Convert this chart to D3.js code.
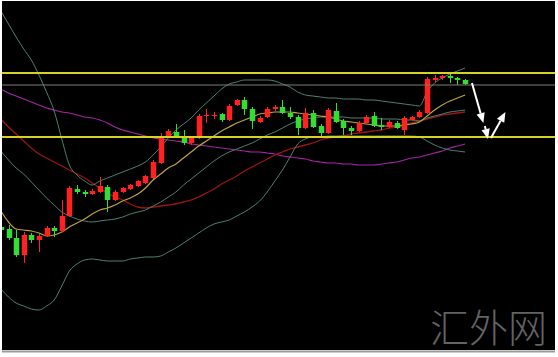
<!DOCTYPE html>
<meta charset="utf-8">

<style type="text/css">
  body {
    margin: 0;
    background: #fff;
  }

  svg {
    display: block;
  }

  .watermark {
    font-family: "Noto Sans CJK SC", sans-serif;
    font-weight: 300;
  }
</style>

<body>
  <script src="https://d3js.org/d3.v7.min.js"></script>

  <script>
    var w = 558;
    var h = 357;

    // bar numbers, bar -1 is cut by the left edge
    var bars = d3.range(-1, 61);

    var open = [1341.5, 1340.5, 1336, 1327.5, 1337.5, 1335, 1337, 1341, 1339.5, 1347, 1360.5, 1359, 1358, 1359, 1361.5, 1355,
      1359, 1360.5, 1362, 1363.5, 1366, 1373.5, 1387, 1389, 1386.5, 1383.5, 1386, 1397, 1397, 1398, 1395, 1402.5,
      1405, 1400.5, 1394, 1396.5, 1400.5, 1401.5, 1398.5, 1396.5, 1391, 1398.5, 1392, 1388.5, 1399.5, 1394.5, 1391, 1389.5,
      1393.5, 1397, 1392.5, 1391.5, 1393.5, 1390, 1395, 1396.5, 1398.5, 1415, 1416, 1417, 1416, 1415];
    var high = [1342.5, 1342.5, 1340, 1339, 1338.5, 1338, 1342, 1342, 1355, 1362, 1362.5, 1360, 1360.5, 1366.5, 1362.5, 1360,
      1361.5, 1363, 1365, 1367.5, 1375, 1388.5, 1390.5, 1393, 1390, 1386.5, 1398, 1400.5, 1399, 1398.5, 1403, 1405.5,
      1406.5, 1401.5, 1397, 1401.5, 1402.5, 1405, 1401.5, 1397.5, 1401, 1400, 1393, 1401, 1403.5, 1395.5, 1392, 1394.5,
      1397.5, 1399, 1396, 1395, 1394.5, 1397, 1397, 1400, 1416.5, 1417.5, 1417.5, 1418, 1416.5, 1415.5];
    var low = [1339, 1335, 1326.5, 1323.5, 1333.5, 1329, 1336.5, 1336.5, 1339, 1346.5, 1358, 1356.5, 1357.5, 1358.5, 1349, 1354.5,
      1358.5, 1360, 1361.5, 1363, 1365.5, 1373, 1386.5, 1386, 1382.5, 1382.5, 1385.5, 1393.5, 1395.5, 1394, 1394.5, 1402,
      1397.5, 1390.5, 1393.5, 1396, 1399.5, 1398, 1395.5, 1387.5, 1390.5, 1391, 1386.5, 1388, 1393.5, 1387.5, 1387.5, 1389,
      1393, 1391.5, 1390, 1391, 1390.5, 1387.5, 1394.5, 1396, 1398, 1413.5, 1415, 1413.5, 1412.5, 1412.5];
    var close = [1340, 1336, 1327.5, 1337.5, 1335, 1337, 1341, 1339.5, 1347, 1361, 1359, 1358, 1359.5, 1362, 1355, 1359,
      1361, 1362.5, 1364.5, 1367, 1374, 1387, 1389.5, 1386.5, 1383.5, 1386, 1397, 1397.5, 1397.5, 1395, 1402, 1405,
      1400.5, 1394.5, 1396, 1400.5, 1401.5, 1398.5, 1396.5, 1391, 1398.5, 1391.5, 1388.5, 1400, 1394, 1391, 1389.5, 1393.5,
      1396.5, 1392, 1391.5, 1394, 1391, 1396, 1396.5, 1399, 1415.5, 1416, 1417, 1416, 1415, 1413];

    // bollinger bands
    var bbUpper = [1449.5, 1443, 1436.5, 1430.5, 1425, 1417.5, 1409, 1399.5, 1385.5, 1372.5, 1367.5, 1364.5, 1362.5, 1364.5, 1366, 1367.5,
      1369, 1370.5, 1372, 1374, 1377.5, 1381.5, 1386, 1390, 1393, 1396, 1400, 1403.5, 1407, 1410.5, 1413, 1414,
      1415, 1415, 1415, 1415, 1414.5, 1413, 1411.5, 1409, 1407.5, 1407, 1406.5, 1406, 1406, 1405.5, 1405.5, 1405.5,
      1405, 1405, 1404.5, 1404, 1403.5, 1403, 1402.5, 1402, 1409, 1413.5, 1416, 1418, 1419.5, 1421];
    var bbMid = [1379.5, 1375, 1371, 1368, 1364, 1360, 1356, 1352.5, 1349, 1347, 1345.5, 1344.5, 1344, 1344.5, 1345, 1345.5,
      1346.5, 1348, 1349, 1350, 1352, 1354, 1356.5, 1359, 1362.5, 1365.5, 1368.5, 1371.5, 1374.5, 1377, 1379, 1380.5,
      1382, 1383.5, 1385.5, 1387.5, 1389, 1391, 1393, 1394.5, 1395.5, 1396, 1396.5, 1396.5, 1396.5, 1396.5, 1396, 1396,
      1396, 1396, 1395.5, 1395.5, 1395.5, 1395, 1395, 1394.5, 1396, 1397, 1398, 1399, 1399.5, 1400];
    var bbLower = [1310.5, 1306.5, 1303.5, 1302, 1300.5, 1300, 1302, 1305, 1312, 1319.5, 1323, 1325, 1325.5, 1325, 1324.5, 1324.5,
      1324.5, 1325.5, 1326, 1326.5, 1326.5, 1327, 1329, 1331, 1333.5, 1336, 1338.5, 1341, 1343, 1344, 1345, 1347,
      1349, 1351.5, 1354.5, 1359, 1364.5, 1370, 1376.5, 1383, 1385.5, 1386.5, 1386.5, 1387, 1387, 1387, 1387, 1387,
      1387, 1387, 1387, 1387, 1387, 1387, 1387, 1386.5, 1384.5, 1382.5, 1381, 1380, 1379.5, 1379];

    // moving averages
    var maYellow = [1349.5, 1344, 1340.5, 1340, 1339.5, 1338.5, 1337, 1337.5, 1339, 1341.5, 1343.5, 1345.5, 1348, 1350, 1351, 1352.5,
      1354.5, 1356, 1358, 1361, 1365, 1368, 1371, 1373, 1376, 1379, 1382, 1384.5, 1387, 1389.5, 1391.5, 1393.5,
      1395, 1396.5, 1398, 1398.5, 1399, 1399, 1399, 1398.5, 1398, 1397.5, 1397, 1396.5, 1395.5, 1394.5, 1394, 1393.5,
      1393, 1392.5, 1392, 1392, 1392, 1392.5, 1393, 1394, 1397, 1400, 1402.5, 1404.5, 1406, 1407.5];
    var maRed = [1395.5, 1391.5, 1388, 1384.5, 1381, 1378, 1376, 1374, 1372, 1370, 1368, 1366, 1363.5, 1361, 1358.5, 1356.5,
      1355, 1353, 1351.5, 1351, 1351.5, 1352, 1352.5, 1353, 1354, 1355, 1356.5, 1358.5, 1360.5, 1363, 1365, 1367,
      1369.5, 1371.5, 1373.5, 1375.5, 1377.5, 1379, 1380.5, 1381.5, 1382.5, 1383.5, 1385, 1386, 1386.5, 1387, 1388, 1388.5,
      1389, 1389.5, 1390, 1391, 1391.5, 1392.5, 1393.5, 1394.5, 1395.5, 1396.5, 1397.5, 1398, 1398.5, 1399];
    var maPurple = [1410.5, 1408.5, 1407, 1405.5, 1404, 1402.5, 1401, 1400, 1399, 1398.5, 1397.5, 1396.5, 1396, 1395, 1393.5, 1391.5,
      1390, 1389, 1388, 1387, 1386, 1385.5, 1385, 1384.5, 1384, 1383, 1382.5, 1382, 1381.5, 1381, 1380.5, 1380,
      1379.5, 1379, 1379, 1378.5, 1378, 1377, 1376.5, 1376, 1375.5, 1374.5, 1374, 1373.5, 1373.5, 1373, 1373, 1372.5,
      1372.5, 1372.5, 1373, 1373.5, 1374, 1375, 1376, 1376.5, 1377.5, 1378.5, 1379.5, 1381, 1382, 1383];

    // horizontal levels
    var levels = [1418.5, 1386.5];
    var pivot = 1412.5;

    // arrows: [bar, price, bar, price]
    var arrows = [
      [60.9, 1413.5, 62.4, 1393.5],
      [62.6, 1392, 63.0, 1385.5],
      [63.4, 1386, 65.3, 1399]
    ];

    var svg = d3.select('body') //SVG Canvas
      .append('svg')
      .attr('width', w)
      .attr('height', h);

    svg.append('rect')
      .attr('width', w)
      .attr('height', h)
      .attr('fill', '#fff');

    svg.append('rect')
      .attr('x', 2)
      .attr('y', 1)
      .attr('width', 553)
      .attr('height', 349)
      .attr('fill', '#000');

    svg.append('line')
      .attr('x1', 2)
      .attr('x2', 555)
      .attr('y1', 351.5)
      .attr('y2', 351.5)
      .attr('stroke', '#9a9a9a')
      .attr('stroke-width', 2);

    svg.append('clipPath')
      .attr('id', 'plot')
      .append('rect')
      .attr('x', 2)
      .attr('y', 1)
      .attr('width', 553)
      .attr('height', 349);

    var x = d3.scaleLinear().domain([0, 60]).range([8.5, 465.1]);
    var y = d3.scaleLinear().domain([1280, 1454]).range([350, 2]);
    var bodyW = 5.5;

    var g = svg.append('g').attr('clip-path', 'url(#plot)');

    // watermark
    g.append('text')
      .attr('class', 'watermark')
      .attr('x', 430)
      .attr('y', 342)
      .attr('font-size', 39)
      .attr('fill', '#636363')
      .text('汇外网');

    var line = d3.line()
      .x(function(d, i) { return x(bars[i]); })
      .y(function(d) { return y(d); })
      .curve(d3.curveMonotoneX);

    var series = [
      { v: maPurple, c: '#a126a1', sw: 1.2 },
      { v: maRed, c: '#9e1414', sw: 1.3 },
      { v: bbUpper, c: '#4e8070', sw: 1 },
      { v: bbMid, c: '#4e8070', sw: 1 },
      { v: bbLower, c: '#4e8070', sw: 1 },
      { v: maYellow, c: '#bca43e', sw: 1.2 }
    ];

    g.selectAll('path.ma') //Draw bands and averages
      .data(series)
      .enter()
      .append('path')
      .attr('class', 'ma')
      .attr('d', function(d) { return line(d.v); })
      .attr('fill', 'none')
      .attr('stroke', function(d) { return d.c; })
      .attr('stroke-width', function(d) { return d.sw; });

    function col(i) {
      return close[i] >= open[i] ? '#ff2222' : '#33dd33';
    }

    var candle = g.selectAll('g.candle') //Draw candles
      .data(bars)
      .enter()
      .append('g')
      .attr('class', 'candle');

    candle.append('line')
      .attr('x1', function(d) { return Math.round(x(d)) + 0.5; })
      .attr('x2', function(d) { return Math.round(x(d)) + 0.5; })
      .attr('y1', function(d, i) { return y(high[i]); })
      .attr('y2', function(d, i) { return y(low[i]); })
      .attr('stroke', function(d, i) { return col(i); })
      .attr('stroke-width', 1);

    candle.append('rect')
      .attr('x', function(d) { return Math.round(x(d)) + 0.5 - bodyW / 2; })
      .attr('y', function(d, i) { return y(Math.max(open[i], close[i])); })
      .attr('width', bodyW)
      .attr('height', function(d, i) { return Math.max(1, Math.abs(y(open[i]) - y(close[i]))); })
      .attr('fill', function(d, i) { return col(i); });

    // levels
    g.selectAll('line.level')
      .data(levels)
      .enter()
      .append('line')
      .attr('class', 'level')
      .attr('x1', 2)
      .attr('x2', 555)
      .attr('y1', function(d) { return y(d); })
      .attr('y2', function(d) { return y(d); })
      .attr('stroke', '#d6d41e')
      .attr('stroke-width', 2);

    g.append('line')
      .attr('x1', 2)
      .attr('x2', 555)
      .attr('y1', y(pivot))
      .attr('y2', y(pivot))
      .attr('stroke', '#7c7c7c')
      .attr('stroke-width', 1.2);

    // arrows
    arrows.forEach(function(a) {
      var x1 = x(a[0]), y1 = y(a[1]), x2 = x(a[2]), y2 = y(a[3]);
      var ang = Math.atan2(y2 - y1, x2 - x1);
      var hl = 10, hw = 4.2;
      var bx = x2 - hl * Math.cos(ang), by = y2 - hl * Math.sin(ang);
      g.append('line')
        .attr('x1', x1).attr('y1', y1)
        .attr('x2', bx).attr('y2', by)
        .attr('stroke', '#fff')
        .attr('stroke-width', 2);
      var px = -Math.sin(ang) * hw, py = Math.cos(ang) * hw;
      g.append('polygon')
        .attr('points', [[x2, y2], [bx + px, by + py], [bx - px, by - py]].join(' '))
        .attr('fill', '#fff');
    });
  </script>
</body>
